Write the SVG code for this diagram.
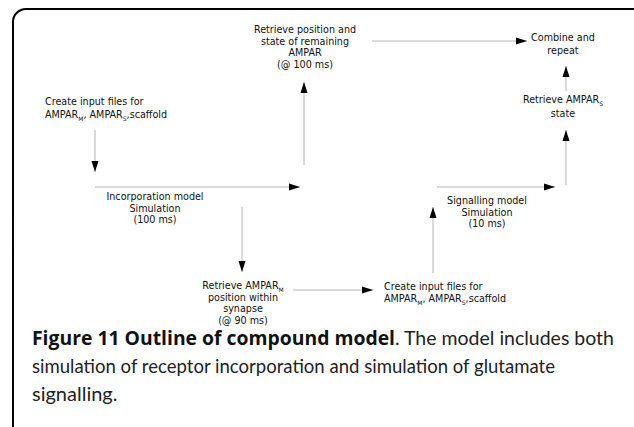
<svg xmlns="http://www.w3.org/2000/svg" width="634" height="427" viewBox="0 0 634 427">
<style>
.t{font-family:"DejaVu Sans",Verdana,sans-serif;font-size:9.6px;fill:#111}
.c{text-anchor:middle}
.s{font-size:6px}
.cap{font-family:Lato,"Open Sans",sans-serif;font-size:20px;fill:#222}
.b{font-family:"Open Sans",sans-serif;font-weight:bold;font-size:19.5px;fill:#111}
.ln{stroke:#b4b4b4;stroke-width:1;fill:none}
</style>
<defs>
<marker id="ah" markerUnits="userSpaceOnUse" markerWidth="12" markerHeight="8" refX="11" refY="4" orient="auto">
<path d="M0,0.5 L11,4 L0,7.5 z" fill="#000"/>
</marker>
</defs>
<rect x="13" y="9" width="640" height="450" rx="13" fill="none" stroke="#000" stroke-width="2"/>
<g id="connectors">
<line class="ln" x1="95" y1="130" x2="95" y2="172" marker-end="url(#ah)"/>
<line class="ln" x1="95" y1="187" x2="300" y2="187" marker-end="url(#ah)"/>
<line class="ln" x1="242" y1="207" x2="242" y2="272" marker-end="url(#ah)"/>
<line class="ln" x1="293" y1="290" x2="373" y2="290" marker-end="url(#ah)"/>
<line class="ln" x1="433" y1="273" x2="433" y2="207" marker-end="url(#ah)"/>
<line class="ln" x1="437" y1="187" x2="555" y2="187" marker-end="url(#ah)"/>
<line class="ln" x1="566" y1="185" x2="566" y2="130" marker-end="url(#ah)"/>
<line class="ln" x1="566" y1="91" x2="566" y2="66" marker-end="url(#ah)"/>
<line class="ln" x1="372" y1="41" x2="527" y2="41" marker-end="url(#ah)"/>
<line class="ln" x1="304" y1="165" x2="304" y2="82" marker-end="url(#ah)"/>
</g>
<g id="create1">
<text class="t" x="45" y="105">Create input files for</text>
<text class="t" x="45" y="118">AMPAR<tspan class="s" dy="3">M</tspan><tspan dy="-3">, AMPAR</tspan><tspan class="s" dy="3">S</tspan><tspan dy="-3">,scaffold</tspan></text>
</g>
<g id="incorp">
<text class="t c" x="155" y="200">Incorporation model</text>
<text class="t c" x="155" y="211.5">Simulation</text>
<text class="t c" x="155" y="223">(100 ms)</text>
</g>
<g id="retrieveM">
<text class="t c" x="243" y="289">Retrieve AMPAR<tspan class="s" dy="3">M</tspan></text>
<text class="t c" x="243" y="300.5">position within</text>
<text class="t c" x="243" y="312">synapse</text>
<text class="t c" x="243" y="323.5">(@ 90 ms)</text>
</g>
<g id="create2">
<text class="t" x="384" y="290">Create input files for</text>
<text class="t" x="384" y="302">AMPAR<tspan class="s" dy="3">M</tspan><tspan dy="-3">, AMPAR</tspan><tspan class="s" dy="3">S</tspan><tspan dy="-3">,scaffold</tspan></text>
</g>
<g id="signal">
<text class="t c" x="487" y="204">Signalling model</text>
<text class="t c" x="487" y="215.5">Simulation</text>
<text class="t c" x="487" y="227">(10 ms)</text>
</g>
<g id="retrieveS">
<text class="t c" x="563" y="103">Retrieve AMPAR<tspan class="s" dy="3">S</tspan></text>
<text class="t c" x="563" y="117">state</text>
</g>
<g id="combine">
<text class="t c" x="563" y="41">Combine and</text>
<text class="t c" x="563" y="54">repeat</text>
</g>
<g id="retrieveAll">
<text class="t c" x="305" y="33">Retrieve position and</text>
<text class="t c" x="305" y="44.5">state of remaining</text>
<text class="t c" x="305" y="56">AMPAR</text>
<text class="t c" x="305" y="68">(@ 100 ms)</text>
</g>
<g id="caption">
<text class="b" x="32" y="345" textLength="363" lengthAdjust="spacingAndGlyphs">Figure 11 Outline of compound model</text>
<text class="cap" x="395" y="345" textLength="219" lengthAdjust="spacingAndGlyphs">. The model includes both</text>
<text class="cap" x="32" y="373" textLength="523" lengthAdjust="spacingAndGlyphs">simulation of receptor incorporation and simulation of glutamate</text>
<text class="cap" x="32" y="401">signalling.</text>
</g>
</svg>
